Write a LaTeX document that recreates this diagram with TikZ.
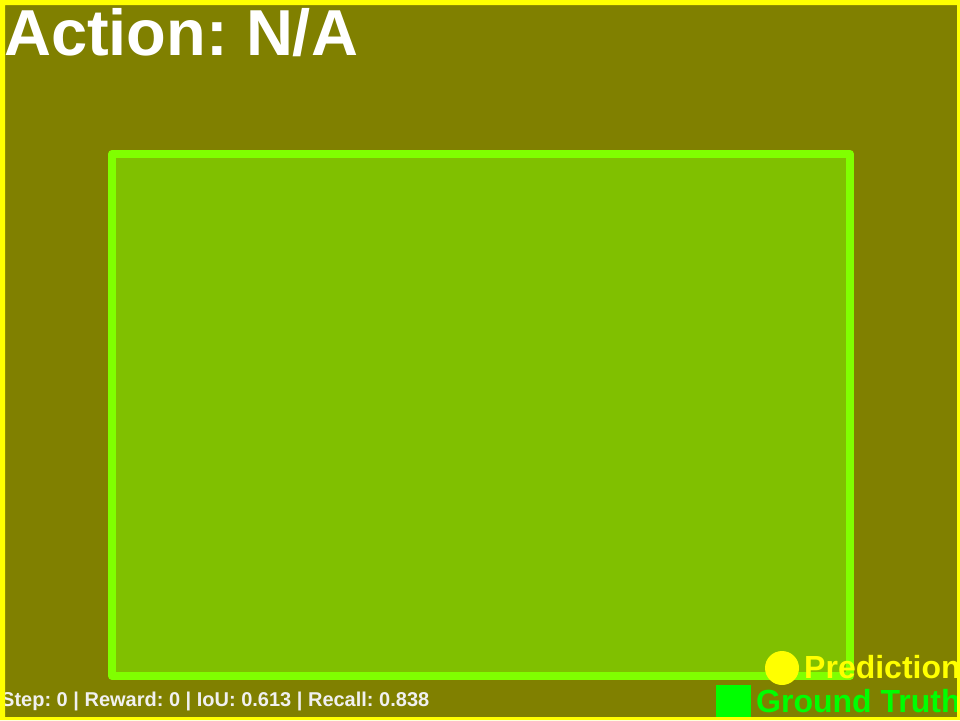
\documentclass[tikz,border=0pt]{standalone}
\usepackage{fontspec}
\setmainfont{Liberation Sans}
\usepackage{tikz}
\frenchspacing
\definecolor{olivebg}{RGB}{128,128,0}
\definecolor{boxfill}{RGB}{128,192,0}
\definecolor{boxline}{RGB}{128,255,0}
\definecolor{predyellow}{RGB}{255,255,0}
\definecolor{gtgreen}{RGB}{0,255,0}
\definecolor{infogray}{RGB}{240,240,240}
\tikzset{
    label text/.style={inner sep=0pt, anchor=base west, font=\bfseries}
}

\begin{document}
\begin{tikzpicture}[x=1pt, y=-1pt]

    \useasboundingbox (0,0) rectangle (960,720);
    \clip (0,0) rectangle (960,720);

    % Hintergrund
    \fill[olivebg] (0,0) rectangle (960,720);

    % Box
    \draw[
        line width=8pt,
        line join=round,
        boxline,
        fill=boxfill
    ] (112,154) rectangle (850,676);

    % Titel
    \node[label text, white, font=\bfseries\fontsize{65}{65}\selectfont]
        (action) at (4,55) {Action: N/A};

    % Statuszeile
    \node[label text, infogray, font=\bfseries\fontsize{20}{20}\selectfont]
        (status) at (1,706) {Step: 0 | Reward: 0 | IoU: 0.613 | Recall: 0.838};

    % Legende
    \fill[predyellow] (782,668) circle (17);
    \node[label text, predyellow, font=\bfseries\fontsize{32}{32}\selectfont]
        (pred) at (804,678) {Prediction};
    \fill[gtgreen] (716,685) rectangle (751,720);
    \node[label text, gtgreen, font=\bfseries\fontsize{32}{32}\selectfont]
        (gt) at (756,712) {Ground Truth};

    % Rahmen
    \fill[predyellow, even odd rule]
        (0,0) rectangle (960,720)
        (5,5) rectangle (957,717);

\end{tikzpicture}
\end{document}
